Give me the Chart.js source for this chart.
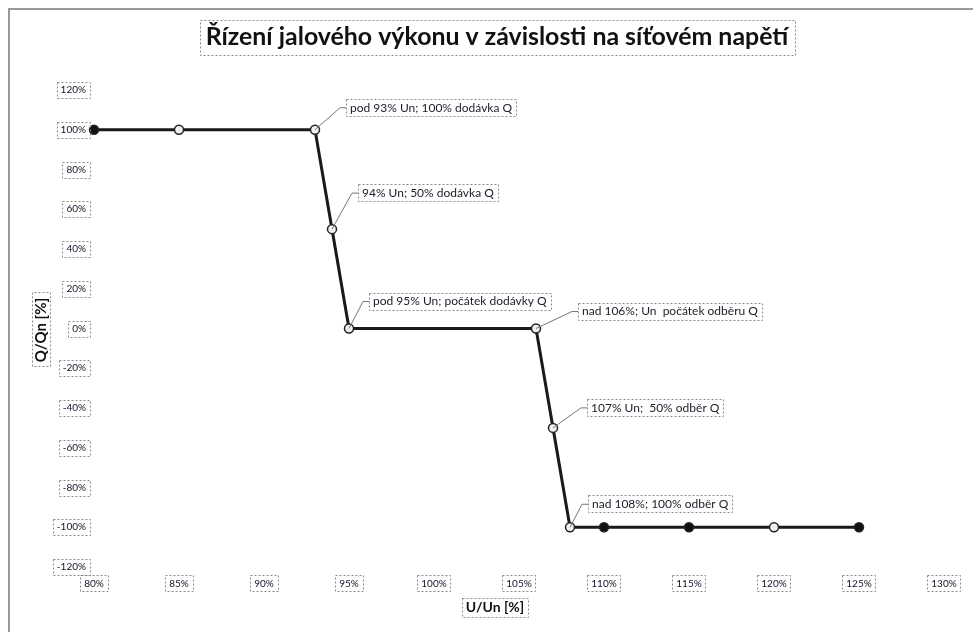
<!DOCTYPE html>
<html>
<head>
<meta charset="utf-8">
<script src="https://cdn.jsdelivr.net/npm/chart.js@4/dist/chart.umd.min.js"></script>
<style>
html,body{margin:0;padding:0;background:#fff;}
#wrap{width:973px;height:632px;position:relative;}
</style>
</head>
<body>
<div id="wrap"><canvas id="c" width="973" height="632"></canvas></div>
<script>
// ---- data ----
const chartTitle = "Řízení jalového výkonu v závislosti na síťovém napětí";
const xTitle = "U/Un [%]";
const yTitle = "Q/Qn [%]";
const voltagePct = [80, 85, 93, 94, 95, 106, 107, 108, 110, 115, 120, 125];
const reactivePct = [100, 100, 100, 50, 0, 0, -50, -100, -100, -100, -100, -100];
const xTickValues = [80, 85, 90, 95, 100, 105, 110, 115, 120, 125, 130];
const yTickValues = [-120, -100, -80, -60, -40, -20, 0, 20, 40, 60, 80, 100, 120];
const noteIndex = [2, 3, 4, 5, 6, 7];
const noteText = [
  "pod 93% Un; 100% dodávka Q",
  "94% Un; 50% dodávka Q",
  "pod 95% Un; počátek dodávky Q",
  "nad 106%; Un  počátek odběru Q",
  "107% Un;  50% odběr Q",
  "nad 108%; 100% odběr Q"
];

// ---- styling (not data) ----
const FONT = "Lato, 'Open Sans', 'DejaVu Sans', sans-serif";
const filledMarkers = new Set([0, 8, 9, 11]);
const noteOffsets = [[31, -22], [26, -36], [20, -27], [42, -17], [34, -20], [18, -23]];

function dottedBox(ctx, x, y, w, h) {
  ctx.save();
  ctx.setLineDash([2, 2]);
  ctx.strokeStyle = '#8a8a8a';
  ctx.lineWidth = 1;
  ctx.strokeRect(Math.round(x) + 0.5, Math.round(y) + 0.5, Math.round(w), Math.round(h));
  ctx.restore();
}

const decorPlugin = {
  id: 'decor',
  beforeDraw(chart) {
    const ctx = chart.ctx;
    ctx.save();
    ctx.fillStyle = '#fff';
    ctx.fillRect(0, 0, chart.width, chart.height);
    ctx.strokeStyle = '#9a9a9a';
    ctx.lineWidth = 2;
    ctx.beginPath();
    ctx.moveTo(9, chart.height);
    ctx.lineTo(9, 9);
    ctx.lineTo(chart.width, 9);
    ctx.stroke();
    ctx.restore();
  },
  afterDatasetsDraw(chart) {
    const ctx = chart.ctx;
    const meta = chart.getDatasetMeta(0);
    ctx.save();
    ctx.font = "12px " + FONT;
    noteIndex.forEach((idx, k) => {
      const pt = meta.data[idx];
      const bx = pt.x + noteOffsets[k][0];
      const by = pt.y + noteOffsets[k][1];
      const tw = ctx.measureText(noteText[k]).width;
      ctx.strokeStyle = '#777';
      ctx.lineWidth = 1;
      ctx.setLineDash([]);
      ctx.beginPath();
      ctx.moveTo(pt.x, pt.y);
      ctx.lineTo(bx - 6, by);
      ctx.lineTo(bx, by);
      ctx.stroke();
      dottedBox(ctx, bx, by - 9, tw + 8, 17);
      ctx.fillStyle = '#1c1c2a';
      ctx.textAlign = 'left';
      ctx.textBaseline = 'middle';
      ctx.fillText(noteText[k], bx + 4, by);
    });
    ctx.restore();
  },
  afterDraw(chart) {
    const ctx = chart.ctx;
    ctx.save();
    let size = 24;
    ctx.font = "bold " + size + "px " + FONT;
    let w = ctx.measureText(chartTitle).width;
    size = size * 582 / w;
    ctx.font = "bold " + size.toFixed(1) + "px " + FONT;
    w = ctx.measureText(chartTitle).width;
    const tcx = 497, tcy = 37;
    ctx.fillStyle = '#111';
    ctx.textAlign = 'center';
    ctx.textBaseline = 'middle';
    ctx.fillText(chartTitle, tcx, tcy);
    dottedBox(ctx, tcx - w / 2 - 6, tcy - 17, w + 12, 35);

    ctx.font = "bold 14px " + FONT;
    w = ctx.measureText(xTitle).width;
    ctx.fillText(xTitle, 495, 607);
    dottedBox(ctx, 495 - w / 2 - 4, 598, w + 8, 19);

    ctx.font = "bold 15px " + FONT;
    ctx.translate(41, 330);
    ctx.rotate(-Math.PI / 2);
    w = ctx.measureText(yTitle).width;
    ctx.fillText(yTitle, 0, 0);
    dottedBox(ctx, -w / 2 - 5, -9, w + 10, 18);
    ctx.setTransform(1, 0, 0, 1, 0, 0);

    ctx.font = "10px " + FONT;
    const xs = chart.scales.x, ys = chart.scales.y;
    ys.ticks.forEach(t => {
      const lbl = t.value + '%';
      const tw = ctx.measureText(lbl).width;
      const py = ys.getPixelForValue(t.value);
      const right = ys.right - 8;
      dottedBox(ctx, right - tw - 4, py - 8, tw + 8, 16);
    });
    xs.ticks.forEach(t => {
      const lbl = t.value + '%';
      const tw = ctx.measureText(lbl).width;
      const px = xs.getPixelForValue(t.value);
      dottedBox(ctx, px - tw / 2 - 4, xs.top + 8, tw + 8, 16);
    });
    ctx.restore();
  }
};

new Chart(document.getElementById('c'), {
  type: 'line',
  data: {
    datasets: [{
      data: voltagePct.map((x, i) => ({ x: x, y: reactivePct[i] })),
      borderColor: '#1a1a1a',
      borderWidth: 3,
      pointRadius: 4.5,
      pointBorderWidth: 1.5,
      pointBorderColor: '#222',
      pointBackgroundColor: ctx => filledMarkers.has(ctx.dataIndex) ? '#111' : '#f0f0f0',
      tension: 0,
      clip: false
    }]
  },
  options: {
    responsive: false,
    devicePixelRatio: 1,
    animation: false,
    layout: { padding: { top: 90, right: 29, bottom: 0, left: 0 } },
    plugins: { legend: { display: false }, tooltip: { enabled: false }, title: { display: false } },
    scales: {
      x: {
        type: 'linear',
        min: 80, max: 130,
        afterBuildTicks: s => { s.ticks = xTickValues.map(v => ({ value: v })); },
        afterFit: s => { s.height = 65; },
        grid: { display: false, drawTicks: false },
        border: { display: false },
        ticks: {
          callback: v => v + '%',
          font: { family: FONT, size: 10 },
          color: '#14142a',
          padding: 11,
          maxRotation: 0,
          autoSkip: false
        }
      },
      y: {
        type: 'linear',
        min: -120, max: 120,
        afterBuildTicks: s => { s.ticks = yTickValues.map(v => ({ value: v })); },
        afterFit: s => { s.width = 94; },
        grid: { display: false, drawTicks: false },
        border: { display: false },
        ticks: {
          callback: v => v + '%',
          font: { family: FONT, size: 10 },
          color: '#14142a',
          padding: 8,
          autoSkip: false
        }
      }
    }
  },
  plugins: [decorPlugin]
});
</script>
</body>
</html>
